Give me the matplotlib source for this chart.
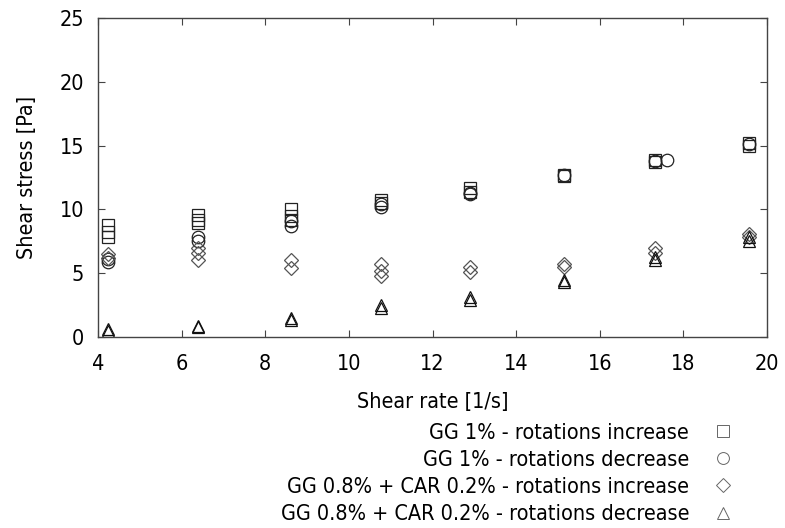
import matplotlib
matplotlib.use("Agg")
import matplotlib.pyplot as plt

# ---- data ----
sq_x = [4.25, 4.25, 4.25, 6.4, 6.4, 6.4, 8.62, 8.62, 8.62, 10.78, 10.78, 12.9, 12.9, 15.15, 15.15, 17.33, 17.33, 19.57, 19.57]
sq_y = [8.8, 8.2, 7.8, 9.6, 9.2, 8.9, 10.0, 9.5, 9.2, 10.7, 10.5, 11.7, 11.4, 12.7, 12.6, 13.9, 13.7, 15.2, 15.0]

ci_x = [4.25, 4.25, 6.4, 6.4, 8.62, 8.62, 10.78, 10.78, 12.9, 12.9, 15.15, 17.33, 17.6, 19.57]
ci_y = [6.1, 5.9, 7.8, 7.5, 9.1, 8.7, 10.4, 10.2, 11.3, 11.2, 12.7, 13.8, 13.9, 15.1]

di_x = [4.25, 4.25, 6.4, 6.4, 6.4, 8.62, 8.62, 10.78, 10.78, 10.78, 12.9, 12.9, 15.15, 15.15, 17.33, 17.33, 19.57, 19.57]
di_y = [6.5, 6.2, 7.0, 6.6, 6.0, 6.0, 5.4, 5.7, 5.2, 4.8, 5.5, 5.1, 5.7, 5.5, 7.0, 6.6, 8.1, 7.8]

tr_x = [4.25, 4.25, 6.4, 6.4, 8.62, 8.62, 10.78, 10.78, 12.9, 12.9, 15.15, 15.15, 17.33, 17.33, 19.57, 19.57]
tr_y = [0.6, 0.5, 0.9, 0.8, 1.5, 1.3, 2.5, 2.3, 3.1, 2.9, 4.5, 4.3, 6.3, 6.0, 7.8, 7.5]

labels = ["GG 1% - rotations increase",
          "GG 1% - rotations decrease",
          "GG 0.8% + CAR 0.2% - rotations increase",
          "GG 0.8% + CAR 0.2% - rotations decrease"]

x_ticks = [4, 6, 8, 10, 12, 14, 16, 18, 20]
y_ticks = [0, 5, 10, 15, 20, 25]

plt.rcParams['font.family'] = ['DejaVu Sans']
plt.rcParams['font.stretch'] = 'condensed'
FS = 15.5
fig = plt.figure(figsize=(7.85, 5.28), dpi=100)
ax = fig.add_axes([98/785, 1-337/528, (767-98)/785, (337-18)/528])

ms = 9
kw = dict(linestyle='none', markerfacecolor='none', markeredgewidth=0.9, markersize=ms)
h1, = ax.plot(sq_x, sq_y, marker='s', markeredgecolor='#222222', label=labels[0], **kw)
h2, = ax.plot(ci_x, ci_y, marker='o', markeredgecolor='#222222', label=labels[1], **kw)
h3, = ax.plot(di_x, di_y, marker='D', markeredgecolor='#555555', label=labels[2],
              **{**kw, 'markersize': 7.5})
h4, = ax.plot(tr_x, tr_y, marker='^', markeredgecolor='#111111', label=labels[3], **kw)

ax.set_xlim(4, 20)
ax.set_ylim(0, 25)
ax.set_xticks(x_ticks)
ax.set_yticks(y_ticks)
ax.tick_params(direction='in', length=5, width=0.8, color='#444444', labelsize=FS,
               top=True, right=True)
ax.tick_params(axis='x', pad=12)
ax.tick_params(axis='y', pad=10)
for s in ax.spines.values():
    s.set_color('#444444')
    s.set_linewidth(1.0)

ax.set_xlabel("Shear rate [1/s]", fontsize=FS, labelpad=13)
ax.set_ylabel("Shear stress [Pa]", fontsize=FS, labelpad=16)

leg = fig.legend(handles=[h1, h2, h3, h4], labels=labels, loc='upper right',
                 bbox_to_anchor=(745/785, 1-412/528), frameon=False, markerfirst=False,
                 fontsize=FS, handlelength=1.0, handletextpad=1.1, labelspacing=0.33,
                 borderpad=0, markerscale=0.95)
for lh in leg.legend_handles:
    lh.set_markeredgecolor('#666666')
    lh.set_markeredgewidth(0.7)

fig.savefig("out.png", dpi=100)
